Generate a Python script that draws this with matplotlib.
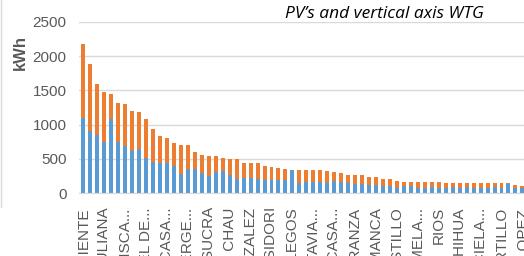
import matplotlib.pyplot as plt
from matplotlib.lines import Line2D

# kWh per site, blue = PV part, orange = vertical axis WTG part
pv_kwh = [1095, 915, 850, 750, 1080, 750, 685, 620, 650, 520,
          455, 440, 440, 400, 285, 350, 350, 300, 250, 305,
          330, 265, 215, 230, 230, 215, 190, 190, 190, 190,
          345, 155, 170, 170, 170, 155, 185, 170, 145, 135,
          135, 120, 120, 110, 110, 80, 105, 105, 80, 80,
          90, 80, 80, 90, 80, 90, 80, 70, 80, 85,
          70, 135, 70, 70]
wtg_kwh = [1085, 965, 740, 720, 370, 565, 610, 585, 535, 570,
           485, 390, 360, 330, 425, 360, 245, 260, 295, 235,
           190, 235, 285, 215, 215, 220, 215, 195, 180, 170,
           0, 185, 170, 170, 170, 170, 130, 130, 120, 130,
           130, 120, 120, 95, 95, 105, 65, 65, 90, 90,
           80, 90, 75, 65, 75, 65, 65, 75, 65, 60,
           75, 10, 45, 35]

# only every third site gets a label
site_labels = ["INDEPENDIENTE", "SANTA JULIANA", "FRANCISCA...", "MIGUEL DE...",
               "PRIMERA CASA...", "ALBERGE...", "LA SUCRA", "SAN ANDRES CHAU",
               "GONZALEZ", "SAN ISIDORI", "GALLEGOS", "OCTAVIA...",
               "NUEVA CASA...", "ESPERANZA", "SALAMANCA", "CASTILLO",
               "CARMELA...", "RIOS", "CHIHUA", "GRACIELA...", "PORTILLO", "LOPEZ"]

title = "PV\u2019s and vertical axis WTG"

blue = "#5B9BD5"
orange = "#ED7D31"
grey_txt = "#595959"

plt.rcParams['font.family'] = ['Liberation Sans', 'DejaVu Sans']

fig = plt.figure(figsize=(5.24, 2.56), dpi=100)
ax = fig.add_axes([79/524, 62.7/256, 445/524, 171.5/256])

x = list(range(len(pv_kwh)))
ax.bar(x, pv_kwh, width=0.57, color=blue, zorder=2)
ax.bar(x, wtg_kwh, width=0.57, bottom=pv_kwh, color=orange, zorder=2)

ax.set_ylim(0, 2500)
ax.set_xlim(-0.62, 63.23)
ax.set_yticks([0, 500, 1000, 1500, 2000, 2500])
ax.yaxis.grid(True, color="#D9D9D9", linewidth=1, zorder=0)
ax.set_axisbelow(True)

ax.set_xticks(x[::3])
ax.set_xticklabels(site_labels, rotation=90, ha="center", va="top")

for s in ["top", "right", "left"]:
    ax.spines[s].set_visible(False)
ax.spines["bottom"].set_color("#D9D9D9")

ax.tick_params(axis="y", length=0, pad=9, labelsize=11, labelcolor=grey_txt)
ax.tick_params(axis="x", length=0, pad=10, labelsize=11, labelcolor=grey_txt)

fig.text(20/524, 1 - 53/256, "kWh", rotation=90, ha="center", va="center",
         fontsize=12, fontweight="bold", color=grey_txt)
fig.text(384/524, 1 - 14/256, title, ha="center", va="center",
         fontsize=12.5, style="italic", color="black", family="Open Sans")

# chart border at the left edge
fig.add_artist(Line2D([0.002, 0.002], [1 - 207/256, 1.0], color="#D9D9D9", linewidth=1))

fig.savefig("out.png", dpi=100)
